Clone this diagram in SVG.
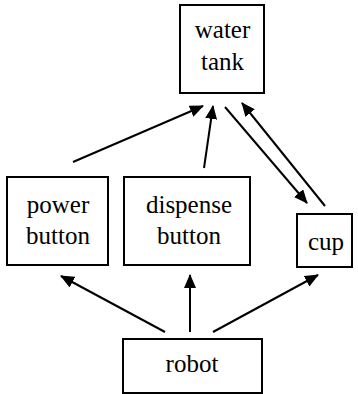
<svg xmlns="http://www.w3.org/2000/svg" width="358" height="394" viewBox="0 0 358 394">
  <style>
    .box { fill: #fff; stroke: #000; stroke-width: 2; }
    .lbl { font-family: 'Liberation Serif', 'DejaVu Serif', serif; font-size: 25px; fill: #000; text-anchor: middle; }
    .edge { stroke: #000; stroke-width: 2; fill: none; marker-end: url(#arrow); }
  </style>
  <defs>
    <marker id="arrow" markerUnits="userSpaceOnUse" markerWidth="14" markerHeight="12" refX="13" refY="6" orient="auto">
      <path d="M0,0 L14,6 L0,12 Z" fill="#000"/>
    </marker>
  </defs>

  <g id="water-tank">
    <rect class="box" x="180" y="5" width="84" height="88"/>
    <text class="lbl" x="222.5" y="38">water</text>
    <text class="lbl" x="222.5" y="70">tank</text>
  </g>

  <g id="power-button">
    <rect class="box" x="7" y="177" width="101" height="88"/>
    <text class="lbl" x="58" y="213">power</text>
    <text class="lbl" x="58" y="244">button</text>
  </g>

  <g id="dispense-button">
    <rect class="box" x="124" y="177" width="126" height="88"/>
    <text class="lbl" x="189" y="213">dispense</text>
    <text class="lbl" x="189" y="244">button</text>
  </g>

  <g id="cup">
    <rect class="box" x="297" y="214" width="55" height="53"/>
    <text class="lbl" x="326" y="250">cup</text>
  </g>

  <g id="robot">
    <rect class="box" x="123" y="339" width="139" height="54"/>
    <text class="lbl" x="192" y="372">robot</text>
  </g>

  <g id="connectors">
    <line class="edge" x1="73" y1="162" x2="203" y2="106"/>
    <line class="edge" x1="204" y1="168" x2="213" y2="106"/>
    <line class="edge" x1="225" y1="107" x2="307" y2="203"/>
    <line class="edge" x1="325" y1="206" x2="242" y2="103"/>
    <line class="edge" x1="165" y1="332" x2="61" y2="276"/>
    <line class="edge" x1="190" y1="332" x2="190" y2="275"/>
    <line class="edge" x1="213" y1="332" x2="318" y2="275"/>
  </g>
</svg>
